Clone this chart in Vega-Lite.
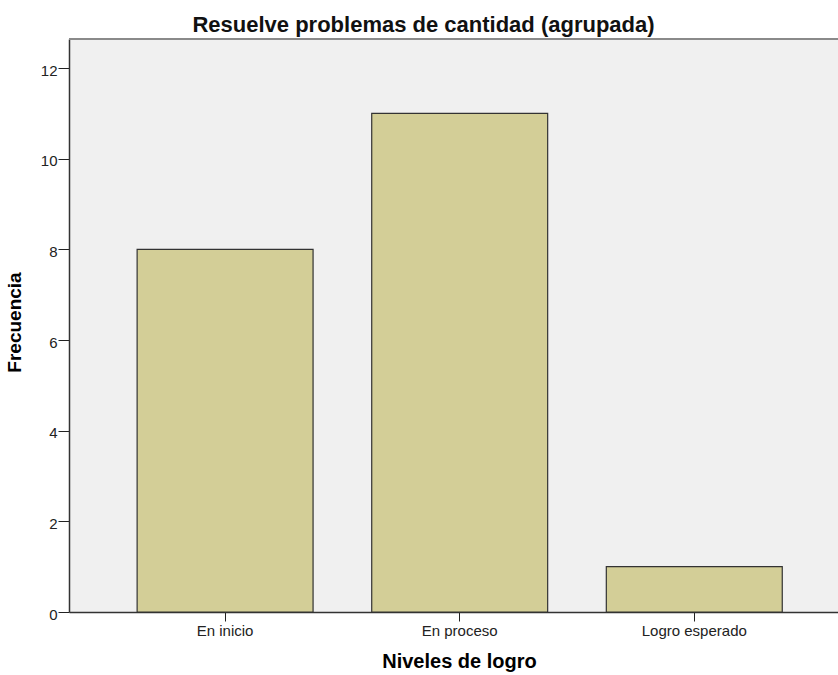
{
  "$schema": "https://vega.github.io/schema/vega-lite/v6.json",
  "autosize": "none",
  "width": 769,
  "height": 573,
  "padding": {"left": 69, "top": 39, "right": 0, "bottom": 63},
  "background": "white",
  "config": {
    "font": "Liberation Sans",
    "view": {"stroke": null, "fill": "#F0F0F0"}
  },
  "title": {
    "text": "Resuelve problemas de cantidad (agrupada)",
    "fontSize": 22,
    "fontWeight": "bold",
    "color": "#111111",
    "anchor": "middle",
    "dx": -30,
    "offset": 1
  },
  "data": {
    "values": [
      {"nivel": "En inicio", "frecuencia": 8},
      {"nivel": "En proceso", "frecuencia": 11},
      {"nivel": "Logro esperado", "frecuencia": 1}
    ]
  },
  "layer": [
    {
      "mark": {"type": "bar", "fill": "#D3CE97", "stroke": "#333333", "strokeWidth": 1.2},
      "encoding": {
        "x": {
          "field": "nivel",
          "type": "nominal",
          "sort": null,
          "scale": {"paddingInner": 0.25, "paddingOuter": 0.264, "align": 0.55},
          "axis": {
            "title": "Niveles de logro",
            "titleFontSize": 20,
            "titleFontWeight": "bold",
            "titleColor": "#000000",
            "titlePadding": 13,
            "titleX": 390,
            "labelAngle": 0,
            "labelFontSize": 15,
            "labelColor": "#222222",
            "labelPadding": 2,
            "tickSize": 9,
            "tickColor": "#222222",
            "domainColor": "#333333",
            "domainWidth": 1.5
          }
        },
        "y": {
          "field": "frecuencia",
          "type": "quantitative",
          "scale": {"domain": [0, 12.64], "nice": false},
          "axis": {
            "title": "Frecuencia",
            "titleFontSize": 19,
            "titleFontWeight": "bold",
            "titleColor": "#000000",
            "titlePadding": 16,
            "titleY": 283,
            "values": [0, 2, 4, 6, 8, 10, 12],
            "grid": false,
            "labelFontSize": 15,
            "labelColor": "#222222",
            "labelPadding": 1,
            "labelOffset": 2,
            "tickSize": 11,
            "tickColor": "#222222",
            "domainColor": "#333333",
            "domainWidth": 1.5
          }
        }
      }
    },
    {
      "mark": {"type": "rule", "color": "#8A8A8A", "strokeWidth": 2},
      "encoding": {"y": {"datum": 12.64}}
    }
  ]
}
